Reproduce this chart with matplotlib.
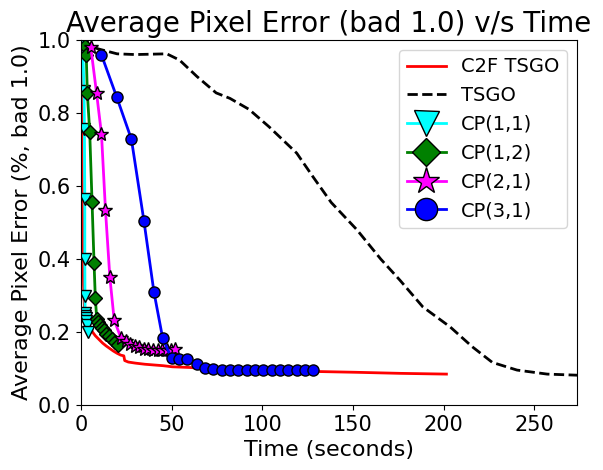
import matplotlib
matplotlib.use('Agg')
import matplotlib.pyplot as plt

# C2F TSGO
c2f_t = [0, 0.5, 1, 1.5, 2, 3, 4, 5, 6.5, 8, 10, 12, 14, 16, 18, 20, 22, 23.7, 24.2, 26.2, 30.2,
         35.3, 40.3, 45.4, 50.4, 60.5, 70.6, 80.6, 100.8, 121, 151.2, 176.4, 201.5]
c2f_y = [1.0, 0.8, 0.5, 0.33, 0.27, 0.245, 0.23, 0.215, 0.2, 0.19, 0.18, 0.17, 0.162, 0.155,
         0.148, 0.142, 0.137, 0.135, 0.122, 0.118, 0.115, 0.112, 0.11, 0.108, 0.105, 0.103,
         0.1, 0.098, 0.095, 0.093, 0.09, 0.087, 0.085]

# TSGO
tsgo_t = [0, 10, 20, 30, 47.4, 54.4, 64, 74.6, 82.2, 92.7, 103.8, 119, 128, 138, 152.2, 165.3,
          175.9, 188.5, 203.6, 215.7, 226.8, 240.4, 257, 273.5]
tsgo_y = [0.99, 0.975, 0.962, 0.96, 0.962, 0.945, 0.90, 0.855, 0.84, 0.81, 0.762, 0.69,
          0.625, 0.555, 0.48, 0.40, 0.342, 0.269, 0.214, 0.16, 0.117, 0.096, 0.085, 0.082]

# CP(1,1)
cp11_t = [1.0, 1.8, 2.0, 2.2, 2.2, 2.3, 2.4, 2.5, 2.6, 2.8, 3.2, 3.8]
cp11_y = [0.99, 0.86, 0.755, 0.565, 0.40, 0.30, 0.252, 0.245, 0.238, 0.23, 0.22, 0.2]

# CP(1,2)
cp12_t = [2.2, 3.0, 3.6, 4.9, 6.2, 7.3, 8.0, 8.8, 9.7, 10.6, 11.6, 12.6, 14.1, 15.6, 17.1,
          18.7, 20.6]
cp12_y = [0.984, 0.959, 0.855, 0.749, 0.556, 0.389, 0.293, 0.236, 0.228, 0.22, 0.212, 0.205,
          0.196, 0.188, 0.18, 0.172, 0.165]

# CP(2,1)
cp21_t = [5.5, 8.7, 11.4, 13.6, 16.0, 18.4, 22.2, 24.7, 27.2, 29.7, 32.3, 34.8, 37.3, 39.8,
          42.3, 44.9, 47.4, 49.9, 51.9]
cp21_y = [0.98, 0.854, 0.742, 0.534, 0.351, 0.233, 0.183, 0.175, 0.168, 0.162, 0.158, 0.155,
          0.153, 0.152, 0.151, 0.151, 0.15, 0.15, 0.155]

# CP(3,1)
cp31_t = [11.4, 19.7, 27.9, 34.8, 40.3, 45.1, 50.0, 54.2, 58.8, 64.0, 68.5, 73.0, 77.6, 82.2,
          86.8, 91.4, 96.0, 100.6, 105.2, 109.8, 114.4, 119.0, 123.6, 128.2]
cp31_y = [0.959, 0.845, 0.728, 0.504, 0.31, 0.184, 0.128, 0.125, 0.125, 0.113, 0.101, 0.098,
          0.097, 0.097, 0.096, 0.096, 0.096, 0.096, 0.096, 0.096, 0.096, 0.096, 0.096, 0.096]

fig = plt.figure(figsize=(6.03, 4.7), dpi=100)
ax = fig.add_subplot(111)
fig.subplots_adjust(left=0.134, right=0.957, bottom=0.138, top=0.915)

ax.plot(c2f_t, c2f_y, color='red', lw=2, label='C2F TSGO')
ax.plot(tsgo_t, tsgo_y, color='black', lw=2, ls='--', label='TSGO')
ax.plot(cp11_t, cp11_y, color='cyan', lw=2, marker='v', ms=9, mec='black', mfc='cyan',
        label='CP(1,1)')
ax.plot(cp12_t, cp12_y, color='green', lw=2, marker='D', ms=7, mec='black', mfc='green',
        label='CP(1,2)')
ax.plot(cp21_t, cp21_y, color='magenta', lw=2, marker='*', ms=10, mec='black', mfc='magenta',
        label='CP(2,1)')
ax.plot(cp31_t, cp31_y, color='blue', lw=2, marker='o', ms=8, mec='black', mfc='blue',
        label='CP(3,1)')

ax.set_xlim(0, 273.5)
ax.set_ylim(0, 1.0)
ax.set_xticks([0, 50, 100, 150, 200, 250])
ax.set_yticks([0.0, 0.2, 0.4, 0.6, 0.8, 1.0])
ax.tick_params(labelsize=15)
ax.set_xlabel('Time (seconds)', fontsize=16)
ax.set_ylabel('Average Pixel Error (%, bad 1.0)', fontsize=16)
ax.set_title('Average Pixel Error (bad 1.0) v/s Time', fontsize=20)
ax.legend(loc='upper right', fontsize=14, markerscale=2)

fig.savefig('out.png', dpi=100)
